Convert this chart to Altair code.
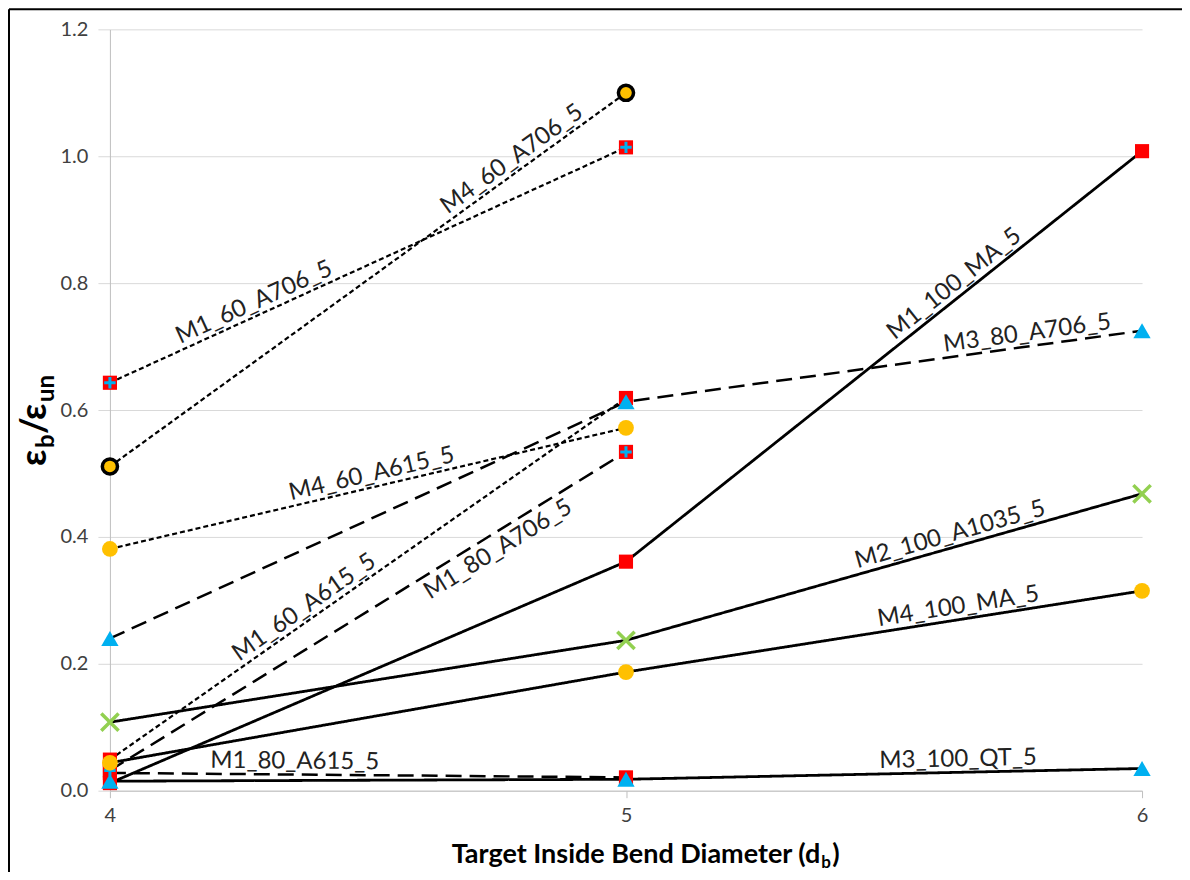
import math
import altair as alt
import pandas as pd

# ---------------- data ----------------
x_values = [4, 5, 6]

series_names = [
    "M1_60_A706_5", "M4_60_A706_5", "M4_60_A615_5", "M1_60_A615_5",
    "M1_80_A706_5", "M3_80_A706_5", "M1_80_A615_5",
    "M1_100_MA_5", "M2_100_A1035_5", "M4_100_MA_5", "M3_100_QT_5",
]
m1_60_a706 = [0.643, 1.014]
m4_60_a706 = [0.511, 1.100]
m4_60_a615 = [0.381, 0.572]
m1_60_a615 = [0.049, 0.619]
m1_80_a706 = [0.032, 0.534]
m3_80_a706 = [0.240, 0.613, 0.725]
m1_80_a615 = [0.028, 0.021]
m1_100_ma = [0.012, 0.361, 1.008]
m2_100_a1035 = [0.108, 0.237, 0.468]
m4_100_ma = [0.044, 0.187, 0.315]
m3_100_qt = [0.015, 0.018, 0.035]

series_values = [m1_60_a706, m4_60_a706, m4_60_a615, m1_60_a615,
                 m1_80_a706, m3_80_a706, m1_80_a615,
                 m1_100_ma, m2_100_a1035, m4_100_ma, m3_100_qt]
line_styles = ["dot", "dot", "dot", "dot", "dash", "dash", "dash",
               "solid", "solid", "solid", "solid"]
marker_kinds = ["sqplus", "circk", "circ", "sq", "sqplus", "tri", "sq",
                "sq", "x", "circ", "tri"]

y_ticks = [0.0, 0.2, 0.4, 0.6, 0.8, 1.0, 1.2]

# label annotations: series, segment index, x of label centre, side
label_series = ["M1_60_A706_5", "M4_60_A706_5", "M4_60_A615_5", "M1_60_A615_5",
                "M1_80_A706_5", "M1_80_A615_5", "M1_100_MA_5", "M3_80_A706_5",
                "M2_100_A1035_5", "M4_100_MA_5", "M3_100_QT_5"]
label_segment = [0, 0, 0, 0, 0, 0, 1, 1, 1, 1, 1]
label_xpos = [4.29, 4.794, 4.513, 4.391, 4.736, 4.358, 5.652, 5.781, 5.635, 5.648, 5.644]
label_side = ["above", "above", "above", "above", "below", "above",
              "above", "above", "above", "above", "above"]

# ---------------- layout ----------------
W, H = 1033, 762
FONT = "Lato"

rows = []
for name, vals, sty, mk in zip(series_names, series_values, line_styles, marker_kinds):
    for i, v in enumerate(vals):
        rows.append({"series": name, "x": x_values[i], "y": v, "style": sty, "marker": mk})
df = pd.DataFrame(rows)

lab_rows = []
for name, seg, lx, side in zip(label_series, label_segment, label_xpos, label_side):
    vals = series_values[series_names.index(name)]
    x1, x2 = x_values[seg], x_values[seg + 1]
    y1, y2 = vals[seg], vals[seg + 1]
    ly = y1 + (y2 - y1) * (lx - x1) / (x2 - x1)
    dxp = (x2 - x1) * W / 2.0
    dyp = (y2 - y1) * H / 1.2
    ang = (-math.degrees(math.atan2(dyp, dxp))) % 360
    lab_rows.append({"label": name, "lx": lx, "ly": ly, "angle": ang, "side": side})
lab_df = pd.DataFrame(lab_rows)

xaxis = alt.Axis(tickCount=2, format=".0f", grid=False, title=None,
                 tickSize=7, tickColor="#BFBFBF", domainColor="#BFBFBF",
                 labelOverlap=False, labelFlush=False, labelBound=False,
                 labelPadding=8, labelFontSize=20, labelFont=FONT,
                 labelColor="#404040")
xscale = alt.Scale(domain=[4, 6], nice=False, zero=False)
yaxis = alt.Axis(values=y_ticks, format=".1f", grid=True, title=None,
                 gridColor="#D9D9D9", tickSize=12, tickColor="#D9D9D9",
                 domainColor="#BFBFBF", labelPadding=10, labelFontSize=20,
                 labelOverlap=False, labelFont=FONT, labelColor="#404040")
yscale = alt.Scale(domain=[0, 1.2], nice=False)

base = alt.Chart(df)

lines = base.mark_line(color="black").encode(
    x=alt.X("x:Q", scale=xscale, axis=xaxis),
    y=alt.Y("y:Q", scale=yscale, axis=yaxis),
    detail="series:N",
    strokeDash=alt.StrokeDash("style:N", scale=alt.Scale(
        domain=["dot", "dash", "solid"], range=[[5, 3], [16, 8], [1, 0]]), legend=None),
    strokeWidth=alt.StrokeWidth("style:N", scale=alt.Scale(
        domain=["dot", "dash", "solid"], range=[2.2, 2.8, 2.6]), legend=None),
)

def pts(kinds):
    return base.transform_filter(alt.FieldOneOfPredicate(field="marker", oneOf=kinds))

def enc(ch):
    return ch.encode(x=alt.X("x:Q", axis=xaxis), y=alt.Y("y:Q", axis=yaxis))

squares = enc(pts(["sq", "sqplus"]).mark_point(shape="square", filled=True, color="#FF0000",
                                               opacity=1, size=200))
pluses = enc(pts(["sqplus"]).mark_point(shape="M-1,0L1,0M0,-1L0,1", filled=False,
                                        stroke="#00B0F0", strokeWidth=3, opacity=1, size=130))
circles = enc(pts(["circ"]).mark_point(shape="circle", filled=True, color="#FFC000",
                                       opacity=1, size=250))
circk = enc(pts(["circk"]).mark_point(shape="circle", filled=True, fill="#FFC000",
                                      stroke="black", strokeWidth=3.5, opacity=1, size=230))
crosses = enc(pts(["x"]).mark_point(shape="M-1,-1L1,1M-1,1L1,-1", filled=False,
                                    stroke="#92D050", strokeWidth=3.5, opacity=1, size=300))
tris = enc(pts(["tri"]).mark_point(shape="triangle-up", filled=True, color="#00B0F0",
                                   opacity=1, size=300))

lab_base = alt.Chart(lab_df)
labels_above = lab_base.transform_filter(alt.datum.side == "above").mark_text(
    font=FONT, fontSize=24, color="#222222", align="center", baseline="alphabetic", dy=-6
).encode(x=alt.X("lx:Q", axis=xaxis), y=alt.Y("ly:Q", axis=yaxis), text="label:N",
         angle=alt.Angle("angle:Q", scale=None))
labels_below = lab_base.transform_filter(alt.datum.side == "below").mark_text(
    font=FONT, fontSize=24, color="#222222", align="center", baseline="top", dy=4
).encode(x=alt.X("lx:Q", axis=xaxis), y=alt.Y("ly:Q", axis=yaxis), text="label:N",
         angle=alt.Angle("angle:Q", scale=None))

# ---- axis titles with subscripts (composed text) ----
def txt(s, x, y, size, align="left", angle=0, bold=True):
    return alt.Chart(pd.DataFrame({"t": [s]})).mark_text(
        font=FONT, fontSize=size, fontWeight="bold" if bold else "normal",
        color="black", align=align, baseline="alphabetic", angle=angle
    ).encode(text="t:N", x=alt.value(x), y=alt.value(y))

xt_anchor = 711
xt_base = 834
xtitle = (txt("Target Inside Bend Diameter (d", xt_anchor, xt_base, 27, align="right")
          + txt("b", xt_anchor + 1, xt_base + 5, 17)
          + txt(")", xt_anchor + 12, xt_base, 27))

yb = -64  # baseline x of rotated title (plot coords)
ys = 437  # bottom start (y, plot coords)
ytitle = (txt("ε", yb, ys, 36, angle=270)
          + txt("b", yb + 8, ys - 18, 24, angle=270)
          + txt("/", yb, ys - 32, 36, angle=270)
          + txt("ε", yb, ys - 46, 36, angle=270)
          + txt("un", yb + 8, ys - 64, 24, angle=270))

frame = (alt.Chart(pd.DataFrame({"a": [0]})).mark_rule(color="black", strokeWidth=2)
         .encode(x=alt.value(-101), y=alt.value(-20), y2=alt.value(900))
         + alt.Chart(pd.DataFrame({"a": [0]})).mark_rule(color="black", strokeWidth=2)
         .encode(x=alt.value(-101), x2=alt.value(1200), y=alt.value(-20)))

chart = alt.layer(
    lines, squares, pluses, circles, circk, crosses, tris,
    labels_above, labels_below, xtitle, ytitle, frame
).properties(
    width=W, height=H,
    autosize=alt.AutoSizeParams(type="none"),
    padding={"left": 102, "top": 21, "right": 40, "bottom": 81},
).configure_view(stroke=None)

chart.save("out.html", embed_options={"renderer": "svg", "actions": False})
